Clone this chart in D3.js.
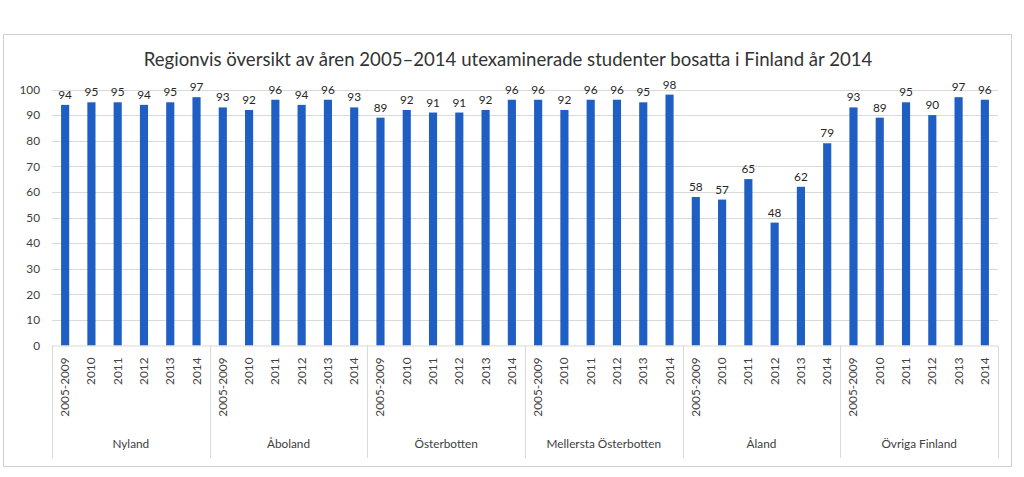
<!DOCTYPE html>
<html><head><meta charset="utf-8">
<script src="https://cdn.jsdelivr.net/npm/d3@7"></script>
<style>body{margin:0;background:#fff;}svg{display:block;font-family:Lato,"Open Sans",sans-serif;}</style>
</head><body>
<svg id="c" width="1024" height="477"></svg>
<script>
const title = "Regionvis översikt av åren 2005–2014 utexaminerade studenter bosatta i Finland år 2014";
const regions = ["Nyland","Åboland","Österbotten","Mellersta Österbotten","Åland","Övriga Finland"];
const periods = ["2005-2009","2010","2011","2012","2013","2014"];
const nyland = [94,95,95,94,95,97];
const aboland = [93,92,96,94,96,93];
const osterbotten = [89,92,91,91,92,96];
const mellersta = [96,92,96,96,95,98];
const aland = [58,57,65,48,62,79];
const ovriga = [93,89,95,90,97,96];
const yTicks = [0,10,20,30,40,50,60,70,80,90,100];

const seriesByRegion = [nyland,aboland,osterbotten,mellersta,aland,ovriga];
const data = [];
regions.forEach((r,i)=>periods.forEach((p,j)=>data.push({key:r+"|"+p,region:r,period:p,value:seriesByRegion[i][j]})));

const svg = d3.select("#c");
const L=52,R=998,T=89.5,B=345.5;
svg.append("rect").attr("x",3.5).attr("y",34.5).attr("width",1008).attr("height",432).attr("fill","#fff").attr("stroke","#d0d0d0").attr("stroke-width",1);

svg.append("text").attr("x",508).attr("y",66).attr("text-anchor","middle").attr("font-size",18.6).attr("fill","#333").text(title);

const x = d3.scaleBand().domain(data.map(d=>d.key)).range([L,R]).paddingInner(0.69).paddingOuter(0.345);
const y = d3.scaleLinear().domain([0,100]).range([B,T]);

const grid = svg.append("g");
grid.selectAll("line").data(yTicks.filter(t=>t>0)).join("line")
  .attr("x1",L).attr("x2",R).attr("y1",d=>Math.round(y(d))+0.5).attr("y2",d=>Math.round(y(d))+0.5)
  .attr("stroke","#d9d9d9");

const yAxis = d3.axisLeft(y).tickValues(yTicks).tickSize(0).tickPadding(12);
const ya = svg.append("g").attr("transform",`translate(${L},0)`).call(yAxis);
ya.select(".domain").remove();
ya.selectAll("text").attr("font-size",11.8).attr("fill","#404040").attr("font-family","Lato,sans-serif");

svg.append("g").selectAll("rect").data(data).join("rect")
  .attr("x",d=>x(d.key)).attr("width",x.bandwidth())
  .attr("y",d=>y(d.value)).attr("height",d=>y(0)-y(d.value))
  .attr("fill","#1f5fc4");

svg.append("g").selectAll("text").data(data).join("text")
  .attr("x",d=>x(d.key)+x.bandwidth()/2).attr("y",d=>y(d.value)-6)
  .attr("text-anchor","middle").attr("font-size",11.8).attr("fill","#262626").text(d=>d.value);

// x axis baseline
svg.append("line").attr("x1",L).attr("x2",R).attr("y1",B+0.5).attr("y2",B+0.5).attr("stroke","#d9d9d9");

// category labels
svg.append("g").selectAll("text").data(data).join("text")
  .attr("transform",d=>`translate(${x(d.key)+x.bandwidth()/2+4},${B+12}) rotate(-90)`)
  .attr("text-anchor","end").attr("font-size",11.8).attr("fill","#404040").text(d=>d.period);

// group separators
const gw = (R-L)/regions.length;
const bounds = d3.range(regions.length+1).map(i=>L+i*gw);
svg.append("g").selectAll("line").data(bounds).join("line")
  .attr("x1",d=>Math.round(d)+0.5).attr("x2",d=>Math.round(d)+0.5).attr("y1",B).attr("y2",458)
  .attr("stroke","#d9d9d9");

svg.append("g").selectAll("text").data(regions).join("text")
  .attr("x",(d,i)=>L+(i+0.5)*gw).attr("y",448).attr("text-anchor","middle")
  .attr("font-size",11.8).attr("fill","#404040").text(d=>d);
</script>
</body></html>
